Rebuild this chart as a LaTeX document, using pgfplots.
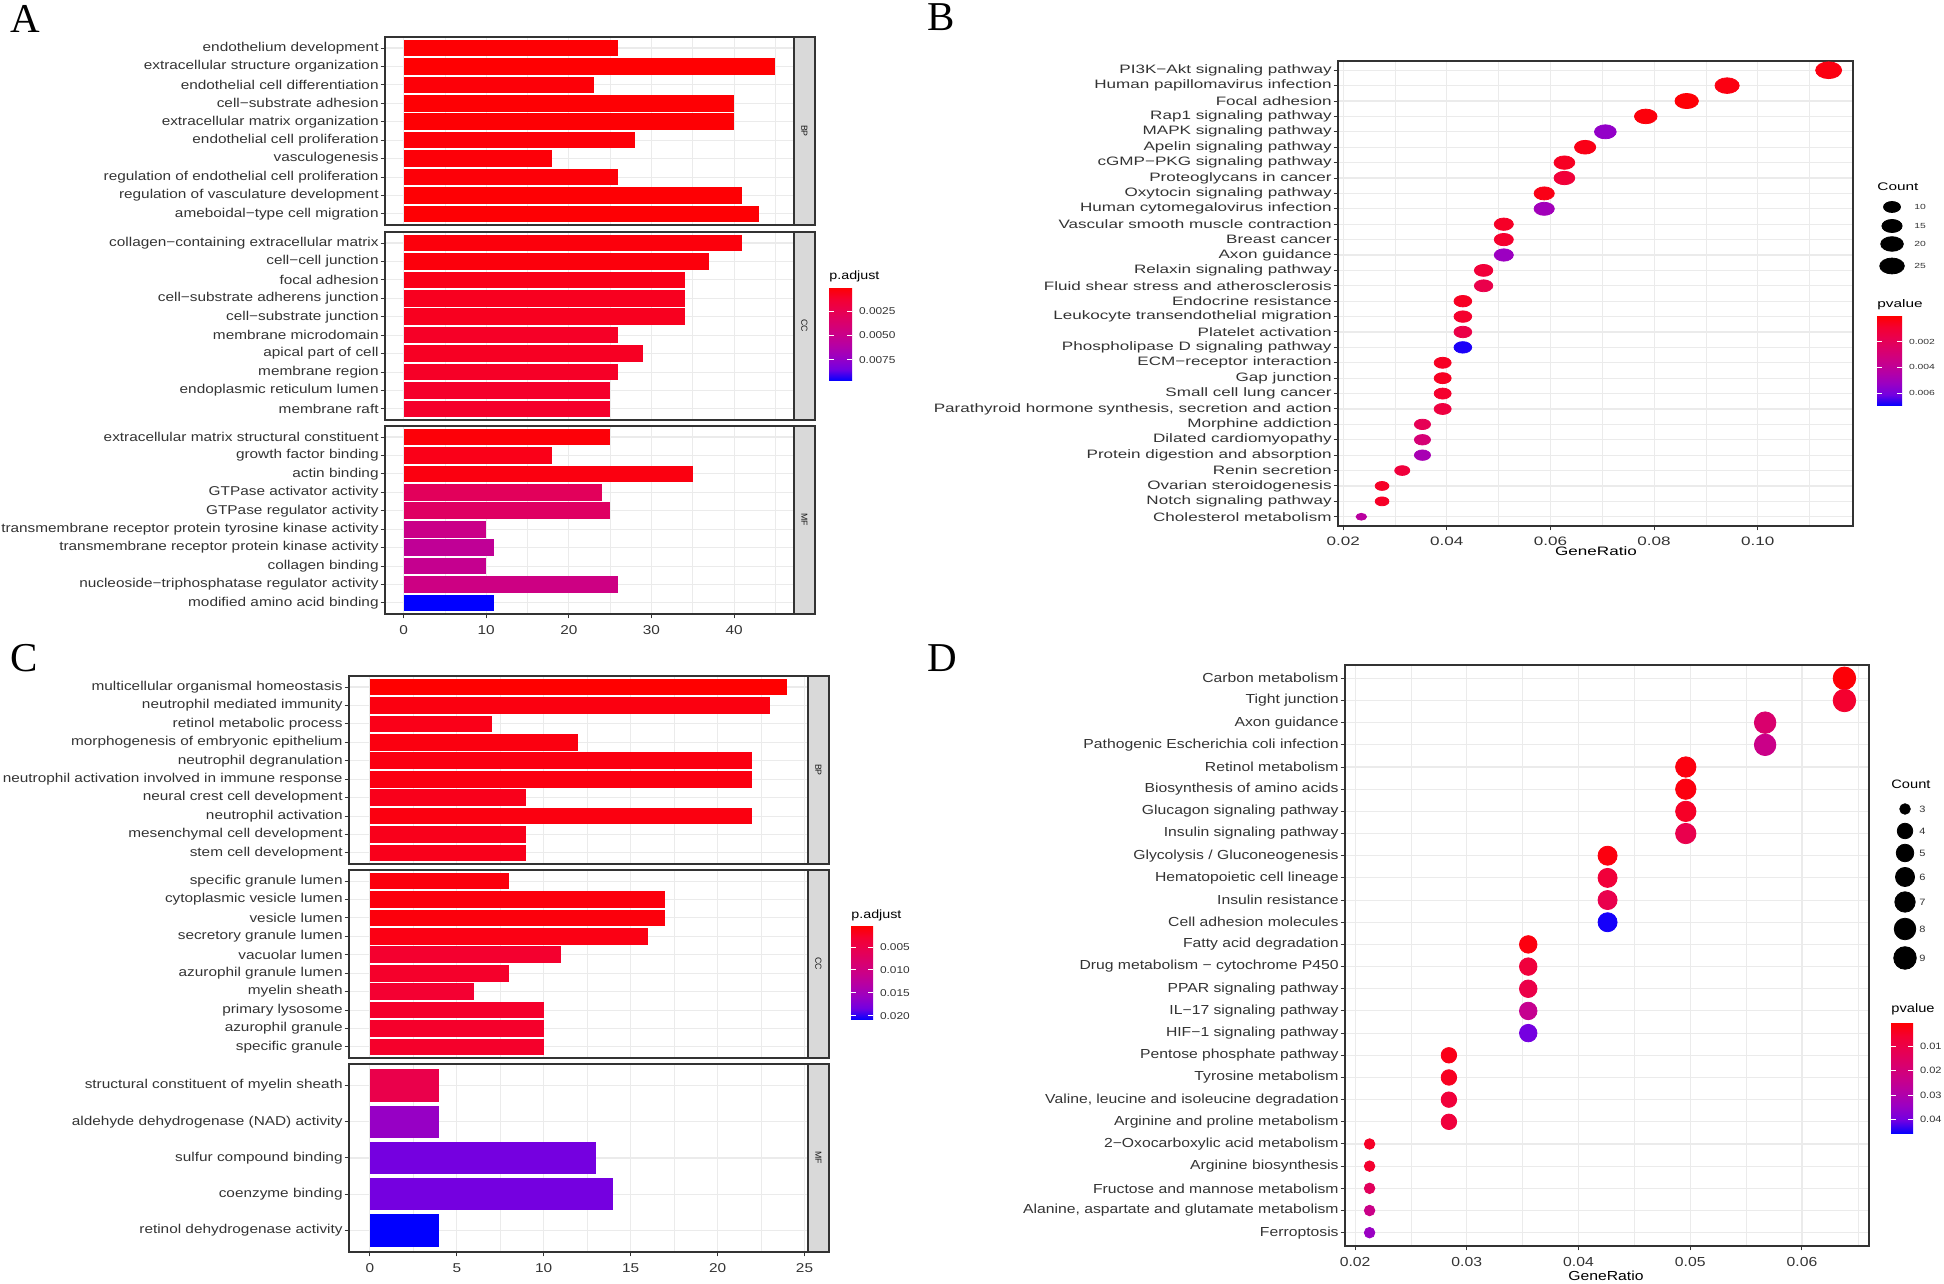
\documentclass[border=0pt]{standalone}
\usepackage{fontspec}
\setmainfont{Liberation Sans}
\newfontfamily\fS[FakeStretch=1.2]{Liberation Sans}
\newfontfamily\fW[FakeStretch=1.4]{Liberation Sans}
\newfontfamily\fN{Liberation Sans}
\newfontfamily\fL{Liberation Serif}
\usepackage{pgfplots}
\usepackage{pgfplotstable}
\pgfplotsset{compat=1.18}

\definecolor{grey20}{HTML}{333333}
\definecolor{grey92}{HTML}{EBEBEB}
\definecolor{grey85}{HTML}{D9D9D9}
\definecolor{grey10}{HTML}{1A1A1A}

\newcommand\ftA{\fontsize{6.4}{7}\fS}
\newcommand\ftB{\fontsize{6.1}{7}\fW}
\newcommand\ftD{\fontsize{6.55}{7.5}\fS}
\newcommand\ftLt{\fontsize{5.95}{7}\fS}
\newcommand\ftLl{\fontsize{4.96}{6}\fS}
\newcommand\ftBt{\fontsize{5.5}{6.5}\fW}
\newcommand\ftBl{\fontsize{3.7}{4.5}\fW}
\newcommand\ftDt{\fontsize{6.1}{7}\fS}
\newcommand\ftDl{\fontsize{4.6}{5.5}\fS}
\newcommand\ftS{\fontsize{4.4}{5}\fN}

\pgfplotsset{
 colormap={rb}{rgb255=(255,0,0) rgb255=(244,0,49) rgb255=(232,0,80) rgb255=(218,0,108) rgb255=(202,0,136) rgb255=(181,0,165) rgb255=(154,0,195) rgb255=(115,0,225) rgb255=(0,0,255)},
 ggbase/.style={
  scale only axis, clip=false,
  scaled x ticks=false, scaled y ticks=false,
  axis line style={draw=grey20, line width=0.55pt},
  every tick/.style={draw=grey20, line width=0.5pt},
  major tick length=2.2pt, minor tick length=0pt,
  tick align=outside, xtick pos=bottom, ytick pos=left,
  xmajorgrids, xminorgrids, ymajorgrids,
  major grid style={draw=grey92, line width=0.55pt},
  minor grid style={draw=grey92, line width=0.3pt},
  /pgf/number format/assume math mode=true,
  y dir=reverse,
  ticklabel style={text=black!80},
  colormap name=rb,
 },
 barA/.style={ggbase, width=204.5pt, height=94pt, xmin=-2.25, xmax=47.25,
  xtick={0,10,20,30,40}, minor xtick={5,15,25,35,45},
  ymin=0.4, ymax=10.6, ytick={1,...,10},
  yticklabel style={font=\ftA, inner sep=0.8pt}, xticklabel style={font=\ftA}},
 barC/.style={ggbase, width=229.5pt, height=94pt, xmin=-1.2, xmax=25.2,
  xtick={0,5,10,15,20,25}, minor xtick={2.5,7.5,12.5,17.5,22.5},
  ymin=0.4, ymax=10.6, ytick={1,...,10},
  yticklabel style={font=\ftA, inner sep=0.8pt}, xticklabel style={font=\ftA}},
 notbottom/.style={xticklabels={}, every x tick/.append style={draw=none}},
 ggcb/.style={at={(parent axis.north east)}, anchor=north west, scale only axis, y dir=reverse,
  scaled y ticks=false,
  axis line style={draw=none}, every tick/.style={draw=white, line width=0.45pt},
  tick align=inside, major tick length=2.6pt, ytick pos=both, yticklabel pos=right,
  yticklabel style={text=black!80}},
}

\newcommand\hb[3]{\addplot[xbar, bar shift=0pt, bar width=0.9, draw=none, color of colormap={#3 of rb}, fill=.] coordinates {(#1,#2)};}
\newcommand\strip[1]{\draw[fill=grey85, draw=grey20, line width=0.55pt] (rel axis cs:1,0) rectangle ([xshift=10.5pt]rel axis cs:1,1);
 \node[rotate=-90, font=\ftS, text=grey10, inner sep=0pt] at ([xshift=5.25pt]rel axis cs:1,0.5) {#1};}

\pgfplotstableread{
y ratio count p
1 0.1137 29 0.0003
2 0.0941 24 0.0003
3 0.0863 22 0.0001
4 0.0784 20 0.0002
5 0.0706 18 0.0054
6 0.0667 17 0.0004
7 0.0627 16 0.0006
8 0.0627 16 0.0011
9 0.0588 15 0.0004
10 0.0588 15 0.0050
11 0.0510 13 0.0007
12 0.0510 13 0.0008
13 0.0510 13 0.0052
14 0.0471 12 0.0011
15 0.0471 12 0.0016
16 0.0431 11 0.0006
17 0.0431 11 0.0008
18 0.0431 11 0.0015
19 0.0431 11 0.0068
20 0.0392 10 0.0006
21 0.0392 10 0.0006
22 0.0392 10 0.0008
23 0.0392 10 0.0013
24 0.0353 9 0.0019
25 0.0353 9 0.0029
26 0.0353 9 0.0048
27 0.0314 8 0.0012
28 0.0275 7 0.0007
29 0.0275 7 0.0007
30 0.0235 6 0.0042
}\tabB

\pgfplotstableread{
y ratio count p
1 0.0638 9 0.0008
2 0.0638 9 0.0055
3 0.0567 8 0.0175
4 0.0567 8 0.0230
5 0.0496 7 0.0018
6 0.0496 7 0.0018
7 0.0496 7 0.0046
8 0.0496 7 0.0110
9 0.0426 6 0.0018
10 0.0426 6 0.0074
11 0.0426 6 0.0110
12 0.0426 6 0.0450
13 0.0355 5 0.0018
14 0.0355 5 0.0078
15 0.0355 5 0.0101
16 0.0355 5 0.0244
17 0.0355 5 0.0400
18 0.0284 4 0.0028
19 0.0284 4 0.0037
20 0.0284 4 0.0074
21 0.0284 4 0.0078
22 0.0213 3 0.0046
23 0.0213 3 0.0055
24 0.0213 3 0.0138
25 0.0213 3 0.0230
26 0.0213 3 0.0345
}\tabD

\begin{document}
\begin{tikzpicture}
\useasboundingbox (0,0) rectangle (972pt,642pt);

% ---------------- Panel A ----------------
\begin{axis}[barA, at={(192.5pt,623.5pt)}, anchor=north west, notbottom,
 yticklabels={endothelium development, extracellular structure organization, endothelial cell differentiation, cell−substrate adhesion, extracellular matrix organization, endothelial cell proliferation, vasculogenesis, regulation of endothelial cell proliferation, regulation of vasculature development, ameboidal−type cell migration}]
\hb{26}{1}{10}\hb{45}{2}{5}\hb{23}{3}{20}\hb{40}{4}{10}\hb{40}{5}{10}
\hb{28}{6}{20}\hb{18}{7}{20}\hb{26}{8}{20}\hb{41}{9}{10}\hb{43}{10}{10}
\strip{BP}
\end{axis}

\begin{axis}[barA, at={(192.5pt,526pt)}, anchor=north west, notbottom,
 yticklabels={collagen−containing extracellular matrix, cell−cell junction, focal adhesion, cell−substrate adherens junction, cell−substrate junction, membrane microdomain, apical part of cell, membrane region, endoplasmic reticulum lumen, membrane raft},
 colorbar, point meta min=0, point meta max=0.0097, colorbar shift/.style={},
 colorbar style={ggcb, xshift=17.5pt, yshift=-27.5pt, width=11.5pt, height=47pt,
  ytick={0.0025,0.005,0.0075}, yticklabels={0.0025,0.0050,0.0075}, yticklabel style={font=\ftLl}}]
\hb{41}{1}{30}\hb{37}{2}{30}\hb{34}{3}{60}\hb{34}{4}{80}\hb{34}{5}{80}
\hb{26}{6}{100}\hb{29}{7}{90}\hb{26}{8}{100}\hb{25}{9}{110}\hb{25}{10}{110}
\strip{CC}
\end{axis}

\begin{axis}[barA, at={(192.5pt,429pt)}, anchor=north west,
 yticklabels={extracellular matrix structural constituent, growth factor binding, actin binding, GTPase activator activity, GTPase regulator activity, transmembrane receptor protein tyrosine kinase activity, transmembrane receptor protein kinase activity, collagen binding, nucleoside−triphosphatase regulator activity, modified amino acid binding}]
\hb{25}{1}{20}\hb{18}{2}{60}\hb{35}{3}{40}\hb{24}{4}{300}\hb{25}{5}{330}
\hb{10}{6}{500}\hb{11}{7}{560}\hb{10}{8}{530}\hb{26}{9}{480}\hb{11}{10}{1000}
\strip{MF}
\end{axis}

% ---------------- Panel C ----------------
\begin{axis}[barC, at={(174.5pt,304pt)}, anchor=north west, notbottom,
 yticklabels={multicellular organismal homeostasis, neutrophil mediated immunity, retinol metabolic process, morphogenesis of embryonic epithelium, neutrophil degranulation, neutrophil activation involved in immune response, neural crest cell development, neutrophil activation, mesenchymal cell development, stem cell development}]
\hb{24}{1}{0}\hb{23}{2}{40}\hb{7}{3}{60}\hb{12}{4}{40}\hb{22}{5}{40}
\hb{22}{6}{40}\hb{9}{7}{70}\hb{22}{8}{40}\hb{9}{9}{70}\hb{9}{10}{70}
\strip{BP}
\end{axis}

\begin{axis}[barC, at={(174.5pt,207pt)}, anchor=north west, notbottom,
 yticklabels={specific granule lumen, cytoplasmic vesicle lumen, vesicle lumen, secretory granule lumen, vacuolar lumen, azurophil granule lumen, myelin sheath, primary lysosome, azurophil granule, specific granule},
 colorbar, point meta min=0.00043, point meta max=0.0209, colorbar shift/.style={},
 colorbar style={ggcb, xshift=21.5pt, yshift=-28pt, width=11pt, height=47pt,
  ytick={0.005,0.01,0.015,0.02}, yticklabels={0.005,0.010,0.015,0.020}, yticklabel style={font=\ftLl}}]
\hb{8}{1}{30}\hb{17}{2}{30}\hb{17}{3}{30}\hb{16}{4}{50}\hb{11}{5}{120}
\hb{8}{6}{110}\hb{6}{7}{130}\hb{10}{8}{110}\hb{10}{9}{110}\hb{10}{10}{110}
\strip{CC}
\end{axis}

\begin{axis}[barC, at={(174.5pt,110pt)}, anchor=north west, ymin=0.4, ymax=5.6, ytick={1,...,5},
 yticklabels={structural constituent of myelin sheath, aldehyde dehydrogenase (NAD) activity, sulfur compound binding, coenzyme binding, retinol dehydrogenase activity}]
\hb{4}{1}{230}\hb{4}{2}{760}\hb{13}{3}{870}\hb{14}{4}{870}\hb{4}{5}{1000}
\strip{MF}
\end{axis}

% ---------------- Panel B ----------------
\begin{axis}[ggbase, at={(669pt,611.5pt)}, anchor=north west, width=257.5pt, height=232.5pt,
 xmin=0.019, xmax=0.1184, xtick={0.02,0.04,0.06,0.08,0.10}, xticklabels={0.02,0.04,0.06,0.08,0.10},
 minor xtick={0.03,0.05,0.07,0.09,0.11},
 ymin=0.4, ymax=30.6, ytick={1,...,30},
 yticklabel style={font=\ftB, inner sep=0.8pt}, xticklabel style={font=\ftB},
 yticklabels={PI3K−Akt signaling pathway, Human papillomavirus infection, Focal adhesion, Rap1 signaling pathway, MAPK signaling pathway, Apelin signaling pathway, cGMP−PKG signaling pathway, Proteoglycans in cancer, Oxytocin signaling pathway, Human cytomegalovirus infection, Vascular smooth muscle contraction, Breast cancer, Axon guidance, Relaxin signaling pathway, Fluid shear stress and atherosclerosis, Endocrine resistance, Leukocyte transendothelial migration, Platelet activation, Phospholipase D signaling pathway, ECM−receptor interaction, Gap junction, Small cell lung cancer, {Parathyroid hormone synthesis, secretion and action}, Morphine addiction, Dilated cardiomyopathy, Protein digestion and absorption, Renin secretion, Ovarian steroidogenesis, Notch signaling pathway, Cholesterol metabolism},
 colorbar, point meta min=0, point meta max=0.007, colorbar shift/.style={},
 colorbar style={ggcb, xshift=12pt, yshift=-127.5pt, width=12.5pt, height=45pt,
  ytick={0.002,0.004,0.006}, yticklabels={0.002,0.004,0.006}, yticklabel style={font=\ftBl}}]
\addplot[scatter, only marks, mark=*, scatter src=explicit,
 scatter/use mapped color={draw=mapped color, fill=mapped color},
 visualization depends on={(2.0*(3+5*sqrt((\thisrow{count}-6)/23))+0.8)/4 \as \msz},
 scatter/@pre marker code/.append style={/tikz/mark size=\msz},
 mark options={xscale=1.55}]
 table[x=ratio, y=y, meta=p] {\tabB};
\end{axis}

% ---------------- Panel D ----------------
\begin{axis}[ggbase, at={(672.5pt,309.5pt)}, anchor=north west, width=262pt, height=290.5pt,
 xmin=0.0191, xmax=0.066, xtick={0.02,0.03,0.04,0.05,0.06}, xticklabels={0.02,0.03,0.04,0.05,0.06},
 minor xtick={0.025,0.035,0.045,0.055,0.065},
 ymin=0.4, ymax=26.6, ytick={1,...,26},
 yticklabel style={font=\ftD, inner sep=0.8pt}, xticklabel style={font=\ftD},
 yticklabels={Carbon metabolism, Tight junction, Axon guidance, Pathogenic Escherichia coli infection, Retinol metabolism, Biosynthesis of amino acids, Glucagon signaling pathway, Insulin signaling pathway, Glycolysis / Gluconeogenesis, Hematopoietic cell lineage, Insulin resistance, Cell adhesion molecules, Fatty acid degradation, Drug metabolism − cytochrome P450, PPAR signaling pathway, IL−17 signaling pathway, HIF−1 signaling pathway, Pentose phosphate pathway, Tyrosine metabolism, {Valine, leucine and isoleucine degradation}, Arginine and proline metabolism, 2−Oxocarboxylic acid metabolism, Arginine biosynthesis, Fructose and mannose metabolism, {Alanine, aspartate and glutamate metabolism}, Ferroptosis},
 colorbar, point meta min=0, point meta max=0.046, colorbar shift/.style={},
 colorbar style={ggcb, xshift=11pt, yshift=-178.5pt, width=11pt, height=56pt,
  ytick={0.01,0.02,0.03,0.04}, yticklabels={0.01,0.02,0.03,0.04}, yticklabel style={font=\ftDl}}]
\addplot[scatter, only marks, mark=*, scatter src=explicit,
 scatter/use mapped color={draw=mapped color, fill=mapped color},
 visualization depends on={(2.4*(3+5*sqrt((\thisrow{count}-3)/6))+3.4)/4 \as \msz},
 scatter/@pre marker code/.append style={/tikz/mark size=\msz}]
 table[x=ratio, y=y, meta=p] {\tabD};
\end{axis}

% ---------------- Overlay: legends and texts ----------------
\begin{axis}[at={(0pt,0pt)}, anchor=south west, scale only axis, width=972pt, height=642pt,
 xmin=0, xmax=1944, ymin=-1284, ymax=0, hide axis, clip=false]
\addplot[scatter, only marks, mark=*, scatter/use mapped color={draw=black, fill=black},
 visualization depends on={(2.0*(3+5*sqrt((\thisrow{count}-6)/23))+0.8)/4 \as \msz},
 scatter/@pre marker code/.append style={/tikz/mark size=\msz},
 mark options={xscale=1.55}] table {
x y count
1892 -207 10
1892 -226 15
1892 -244 20
1892 -266 25
};
\addplot[scatter, only marks, mark=*, scatter/use mapped color={draw=black, fill=black},
 visualization depends on={(2.4*(3+5*sqrt((\thisrow{count}-3)/6))+3.4)/4 \as \msz},
 scatter/@pre marker code/.append style={/tikz/mark size=\msz}] table {
x y count
1905 -809 3
1905 -831 4
1905 -853 5
1905 -877 6
1905 -902 7
1905 -929 8
1905 -958 9
};
\node[anchor=base west, inner sep=0pt, font=\fontsize{20.5}{24}\fL] at (axis cs:10,-33) {A};
\node[anchor=base west, inner sep=0pt, font=\fontsize{20.5}{24}\fL] at (axis cs:927,-31) {B};
\node[anchor=base west, inner sep=0pt, font=\fontsize{20.5}{24}\fL] at (axis cs:10,-672) {C};
\node[anchor=base west, inner sep=0pt, font=\fontsize{20.5}{24}\fL] at (axis cs:927,-672) {D};
\node[anchor=west, inner sep=0pt, font=\ftLt] at (axis cs:829,-276) {p.adjust};
\node[anchor=west, inner sep=0pt, font=\ftLt] at (axis cs:851,-915) {p.adjust};
\node[anchor=west, inner sep=0pt, font=\ftBt] at (axis cs:1877,-187) {Count};
\node[anchor=west, inner sep=0pt, font=\ftBt] at (axis cs:1877,-305) {pvalue};
\node[anchor=west, inner sep=0pt, font=\ftDt] at (axis cs:1891,-784) {Count};
\node[anchor=west, inner sep=0pt, font=\ftDt] at (axis cs:1891,-1009) {pvalue};
\node[anchor=west, inner sep=0pt, font=\ftBl, text=black!80] at (axis cs:1914,-207) {10};
\node[anchor=west, inner sep=0pt, font=\ftBl, text=black!80] at (axis cs:1914,-226) {15};
\node[anchor=west, inner sep=0pt, font=\ftBl, text=black!80] at (axis cs:1914,-244) {20};
\node[anchor=west, inner sep=0pt, font=\ftBl, text=black!80] at (axis cs:1914,-266) {25};
\node[anchor=west, inner sep=0pt, font=\ftDl, text=black!80] at (axis cs:1919,-809) {3};
\node[anchor=west, inner sep=0pt, font=\ftDl, text=black!80] at (axis cs:1919,-831) {4};
\node[anchor=west, inner sep=0pt, font=\ftDl, text=black!80] at (axis cs:1919,-853) {5};
\node[anchor=west, inner sep=0pt, font=\ftDl, text=black!80] at (axis cs:1919,-877) {6};
\node[anchor=west, inner sep=0pt, font=\ftDl, text=black!80] at (axis cs:1919,-902) {7};
\node[anchor=west, inner sep=0pt, font=\ftDl, text=black!80] at (axis cs:1919,-929) {8};
\node[anchor=west, inner sep=0pt, font=\ftDl, text=black!80] at (axis cs:1919,-958) {9};
\node[inner sep=0pt, font=\ftB] at (axis cs:1596,-551) {GeneRatio};
\node[inner sep=0pt, font=\ftD] at (axis cs:1606,-1276) {GeneRatio};
\end{axis}
\end{tikzpicture}
\end{document}
